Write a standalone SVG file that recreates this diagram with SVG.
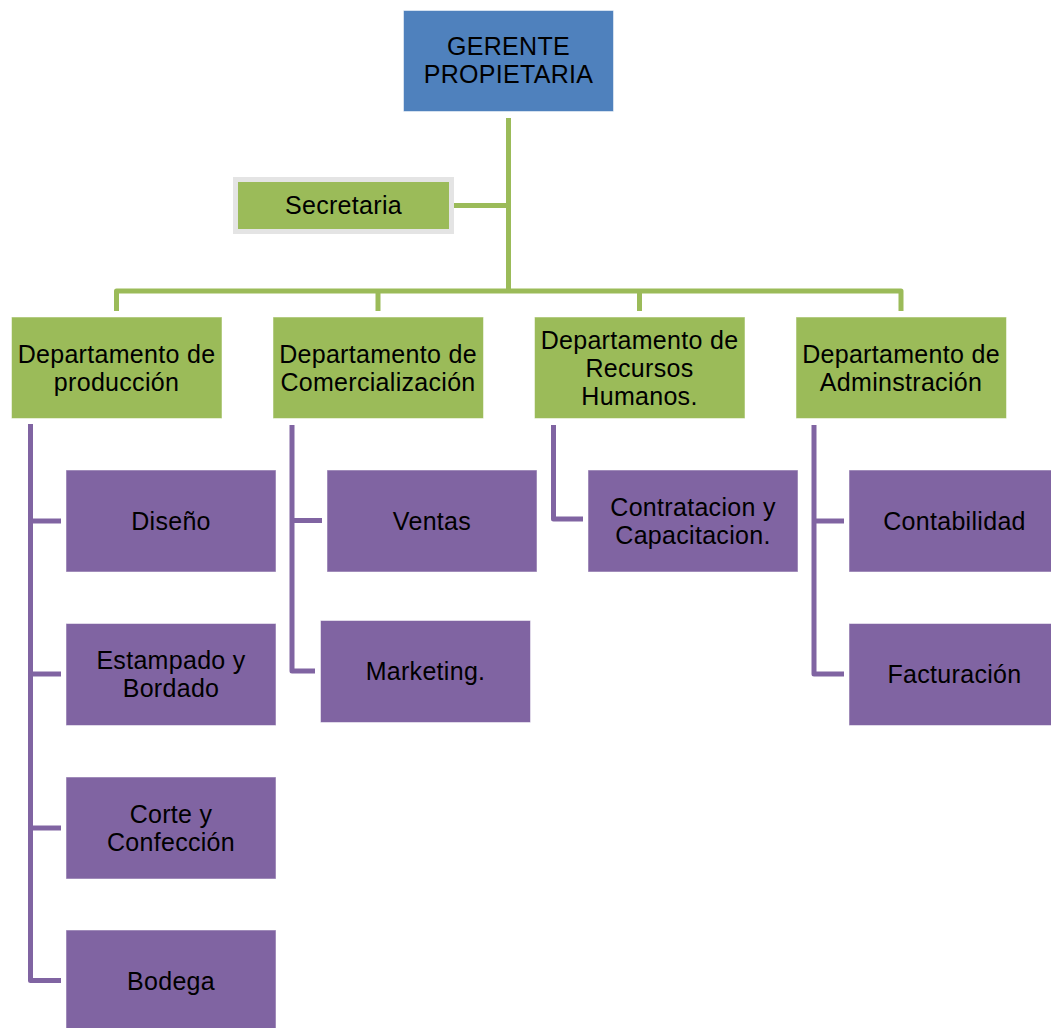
<svg xmlns="http://www.w3.org/2000/svg" width="1051" height="1028" viewBox="0 0 1051 1028">
<style>
text{font-family:"Liberation Sans",Arial,sans-serif;font-size:25px;letter-spacing:0.3px;fill:#000;text-anchor:middle}
.blue{fill:#4F81BD;stroke:#ffffff;stroke-opacity:.5;stroke-width:1}
.green{fill:#9BBB59;stroke:#ffffff;stroke-opacity:.5;stroke-width:1}
.purple{fill:#8064A2;stroke:#ffffff;stroke-opacity:.5;stroke-width:1}
.gl{fill:none;stroke:#9BBB59;stroke-width:5;stroke-linejoin:round}
.pl{fill:none;stroke:#8064A2;stroke-width:5;stroke-linejoin:round}
</style>
<rect width="1051" height="1028" fill="#fff"/>
<g id="connectors">
<path class="gl" d="M508.5 118 V291"/>
<path class="gl" d="M453 205.5 H508.5"/>
<path class="gl" d="M116.5 311 V291 H901 V311"/>
<path class="gl" d="M378 291 V311"/>
<path class="gl" d="M639.5 291 V311"/>
<path class="pl" d="M30.5 424 V980.5 H61"/>
<path class="pl" d="M30.5 521 H61"/>
<path class="pl" d="M30.5 674 H61"/>
<path class="pl" d="M30.5 828 H61"/>
<path class="pl" d="M292 425 V671 H315"/>
<path class="pl" d="M292 520.5 H322"/>
<path class="pl" d="M553.5 425 V519 H583"/>
<path class="pl" d="M814 425 V674 H844"/>
<path class="pl" d="M814 521 H844"/>
</g>
<g id="gerente">
<rect class="blue" x="403.5" y="10.5" width="210" height="101"/>
<text x="508.5" y="55">GERENTE</text>
<text x="508.5" y="83">PROPIETARIA</text>
</g>
<g id="secretaria">
<rect x="235.5" y="179.5" width="216" height="52" fill="#9BBB59" stroke="#e4e4e4" stroke-width="5"/>
<text x="343.5" y="214">Secretaria</text>
</g>
<g id="dep-produccion">
<rect class="green" x="11.5" y="317" width="210.5" height="101.5"/>
<text x="116.5" y="362.5">Departamento de</text>
<text x="116.5" y="390.5">producción</text>
</g>
<g id="dep-comercializacion">
<rect class="green" x="273" y="317" width="210.5" height="101.5"/>
<text x="378" y="362.5">Departamento de</text>
<text x="378" y="390.5">Comercialización</text>
</g>
<g id="dep-rrhh">
<rect class="green" x="534.5" y="317" width="210.5" height="101.5"/>
<text x="639.5" y="348.5">Departamento de</text>
<text x="639.5" y="376.5">Recursos</text>
<text x="639.5" y="404.5">Humanos.</text>
</g>
<g id="dep-administracion">
<rect class="green" x="796" y="317" width="210.5" height="101.5"/>
<text x="901" y="362.5">Departamento de</text>
<text x="901" y="390.5">Adminstración</text>
</g>
<g id="diseno">
<rect class="purple" x="66" y="470" width="210" height="102"/>
<text x="171" y="530">Diseño</text>
</g>
<g id="estampado">
<rect class="purple" x="66" y="623.5" width="210" height="102"/>
<text x="171" y="668.5">Estampado y</text>
<text x="171" y="696.5">Bordado</text>
</g>
<g id="corte">
<rect class="purple" x="66" y="777" width="210" height="102"/>
<text x="171" y="822.5">Corte y</text>
<text x="171" y="850.5">Confección</text>
</g>
<g id="bodega">
<rect class="purple" x="66" y="930" width="210" height="102"/>
<text x="171" y="990">Bodega</text>
</g>
<g id="ventas">
<rect class="purple" x="327" y="470" width="210" height="102"/>
<text x="432" y="530">Ventas</text>
</g>
<g id="marketing">
<rect class="purple" x="320.5" y="620.5" width="210" height="102"/>
<text x="425.5" y="680">Marketing.</text>
</g>
<g id="contratacion">
<rect class="purple" x="588" y="470" width="210" height="102"/>
<text x="693" y="515.5">Contratacion y</text>
<text x="693" y="543.5">Capacitacion.</text>
</g>
<g id="contabilidad">
<rect class="purple" x="849" y="470" width="210" height="102"/>
<text x="954.5" y="530">Contabilidad</text>
</g>
<g id="facturacion">
<rect class="purple" x="849" y="623.5" width="210" height="102"/>
<text x="954.5" y="683">Facturación</text>
</g>
</svg>
